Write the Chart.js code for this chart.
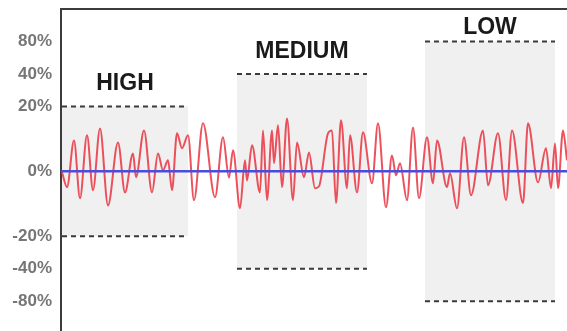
<!DOCTYPE html>
<html>
<head>
<meta charset="utf-8">
<script src="https://cdn.jsdelivr.net/npm/chart.js@4/dist/chart.umd.min.js"></script>
<style>
html,body{margin:0;padding:0;background:#fff;}
#wrap{width:567px;height:331px;position:relative;}
</style>
</head>
<body>
<div id="wrap"><canvas id="c"></canvas></div>
<script>
// ---- data ----
const tickValues = [80, 40, 20, 0, -20, -40, -80];
const tickLabels = ["80%", "40%", "20%", "0%", "-20%", "-40%", "-80%"];

const signalT = [1,6,13,19,26,32,39,47,57,64,72,75,83,91,97,102,107,111,116,121,127,133,142,154,162,168,172,179,184,186,191,199,202,206,211,213,217,221,226,232,236,243,248,254,258,267,271,275,280,286,289,296,302,311,317,325,331,335,339,346,352,358,366,372,376,386,389,396,403,410,422,427,437,445,451,462,467,477,485,490,494,497,502,506];
const signalV = [-0.3,-4.9,9.5,-8.3,11.1,-5.8,13.2,-10.5,8.9,-6.5,5.5,-1.8,12.6,-6.5,5.5,0.3,3.4,-5.8,11.7,7.1,11.1,-8.9,14.8,-8.0,10.5,-2.0,6.5,-11.4,3.4,-2.8,8.0,-6.5,12.6,-8.9,12.6,2.5,14.2,-4.9,16.3,-8.9,8.9,-1.8,5.8,-5.2,-4.6,11.7,12.6,-9.8,15.7,-5.2,11.1,-6.5,12.0,-3.7,14.8,-11.1,4.9,-1.2,2.5,-8.9,13.5,-8.3,10.5,-3.7,9.5,-4.9,-0.6,-11.4,10.5,-7.4,12.6,-4.3,11.7,-8.9,12.6,-9.8,14.8,-3.4,7.1,-5.2,8.6,-5.2,12.6,3.4];

const bandNames = ["HIGH", "MEDIUM", "LOW"];
const bandStart = [1, 176, 364];
const bandEnd = [127, 306, 494];
const bandLevel = [20, 40, 80];

const timeMax = 506;

// piecewise mapping of percent values onto the axis (non-linear axis)
const knotsPct = [-80, -40, -20, 0, 20, 40, 80];
const knotsPos = [-4, -3, -2, 0, 2, 3, 4];
function f(v) {
  if (v <= knotsPct[0]) return knotsPos[0];
  for (let i = 1; i < knotsPct.length; i++) {
    if (v <= knotsPct[i]) {
      const r = (v - knotsPct[i-1]) / (knotsPct[i] - knotsPct[i-1]);
      return knotsPos[i-1] + r * (knotsPos[i] - knotsPos[i-1]);
    }
  }
  return knotsPos[knotsPos.length-1];
}

const signalData = signalT.map((t, i) => ({x: t, y: f(signalV[i])}));
const zeroData = [{x: 0, y: f(0)}, {x: timeMax, y: f(0)}];

const dashSets = [];
bandNames.forEach((n, i) => {
  [bandLevel[i], -bandLevel[i]].forEach(lv => {
    dashSets.push({
      type: 'line',
      data: [{x: bandStart[i], y: f(lv)}, {x: bandEnd[i], y: f(lv)}],
      borderColor: '#3a3a3a',
      borderWidth: 2,
      borderDash: [5, 4],
      pointRadius: 0,
      order: 3
    });
  });
});

const bandPlugin = {
  id: 'bands',
  beforeDatasetsDraw(chart) {
    const {ctx, scales: {x, y}} = chart;
    ctx.save();
    ctx.fillStyle = '#f0f0f1';
    bandNames.forEach((n, i) => {
      const x0 = x.getPixelForValue(bandStart[i]);
      const x1 = x.getPixelForValue(bandEnd[i]);
      const y0 = y.getPixelForValue(f(bandLevel[i]));
      const y1 = y.getPixelForValue(f(-bandLevel[i]));
      ctx.fillRect(x0, y0, x1 - x0, y1 - y0);
    });
    ctx.restore();
  },
  afterDraw(chart) {
    const {ctx, scales: {x, y}} = chart;
    const offsets = [23, 22, 14];
    ctx.save();
    ctx.fillStyle = '#1a1a1a';
    ctx.font = 'bold 23px "Liberation Sans", Arial, sans-serif';
    ctx.textAlign = 'center';
    ctx.textBaseline = 'middle';
    bandNames.forEach((n, i) => {
      const cx = (x.getPixelForValue(bandStart[i]) + x.getPixelForValue(bandEnd[i])) / 2;
      const cy = y.getPixelForValue(f(bandLevel[i])) - offsets[i];
      ctx.fillText(n, cx, cy);
    });
    ctx.restore();
  }
};

new Chart(document.getElementById('c'), {
  type: 'line',
  data: {
    datasets: [
      {
        data: zeroData,
        borderColor: '#4b4bdc',
        borderWidth: 2.5,
        pointRadius: 0,
        order: 0
      },
      {
        data: signalData,
        borderColor: 'rgba(234,52,64,0.85)',
        borderWidth: 2,
        pointRadius: 0,
        cubicInterpolationMode: 'monotone',
        order: 1
      },
      ...dashSets
    ]
  },
  options: {
    responsive: true,
    maintainAspectRatio: false,
    animation: false,
    layout: {padding: {top: 9, right: 0, bottom: 0, left: 0}},
    plugins: {legend: {display: false}, tooltip: {enabled: false}},
    scales: {
      x: {
        type: 'linear',
        position: 'top',
        min: 0,
        max: timeMax,
        ticks: {display: false},
        grid: {display: false, drawTicks: false},
        border: {display: true, color: '#3c3c3c', width: 2},
        afterFit(s) { s.height = 0; s.paddingLeft = 0; s.paddingRight = 0; }
      },
      y: {
        type: 'linear',
        min: -4.92,
        max: 5,
        grid: {display: false, drawTicks: false},
        border: {display: true, color: '#3c3c3c', width: 2},
        afterBuildTicks(s) { s.ticks = tickValues.map(v => ({value: f(v)})); },
        afterFit(s) { s.width = 61; s.paddingTop = 0; s.paddingBottom = 0; },
        ticks: {
          padding: 9,
          color: '#767676',
          font: {family: '"Liberation Sans", Arial, sans-serif', size: 17, weight: 'bold'},
          callback(value) {
            const i = tickValues.findIndex(v => Math.abs(f(v) - value) < 1e-6);
            return i >= 0 ? tickLabels[i] : '';
          }
        }
      }
    }
  },
  plugins: [bandPlugin]
});
</script>
</body>
</html>
